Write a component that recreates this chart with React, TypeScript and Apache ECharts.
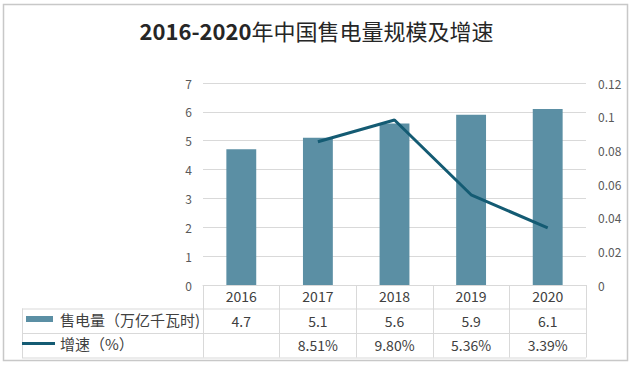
import React, { useEffect, useRef } from "react";
import * as echarts from "echarts";

const years = ["2016", "2017", "2018", "2019", "2020"];
const sales = [4.7, 5.1, 5.6, 5.9, 6.1];
const growth: (number | null)[] = [null, 0.0851, 0.098, 0.0536, 0.0339];
const salesName = "售电量（万亿千瓦时)";
const growthName = "增速（%）";
const titleYears = "2016-2020";
const titleRest = "年中国售电量规模及增速";

const W = 633;
const H = 366;
const GL = 203;
const GR = 586;
const GT = 83;
const GB = 285;
const ROW = 24.5;
const TABLE_LEFT = 22;
const FONT = "'Noto Sans CJK SC', 'Noto Sans', sans-serif";
const GRID_COLOR = "#d9d9d9";
const TEXT_COLOR = "#404040";
const BAR_COLOR = "#5b8fa4";
const LINE_COLOR = "#145b73";

export default function App() {
  const ref = useRef<HTMLDivElement>(null);
  useEffect(() => {
    if (!ref.current) return;
    const chart = echarts.init(ref.current, undefined, { renderer: "svg" });
    const r1 = GB + ROW - 1;
    const r2 = GB + ROW * 2 - 1;
    const r3 = GB + ROW * 3 - 1;
    chart.setOption({
      animation: false,
      backgroundColor: "#fff",
      textStyle: { fontFamily: FONT },
      title: {
        text: `{a|${titleYears}}{b|${titleRest}}`,
        left: "center",
        top: 14,
        textStyle: {
          rich: {
            a: { fontSize: 22, fontWeight: "bold", color: "#262626", fontFamily: FONT },
            b: { fontSize: 22, fontWeight: "normal", color: "#262626", fontFamily: FONT },
          },
        },
      },
      legend: [
        {
          data: [{ name: salesName, icon: "rect" }],
          left: 26,
          top: r1 + 3,
          padding: 0,
          itemWidth: 27,
          itemHeight: 6,
          itemGap: 0,
          textStyle: { fontSize: 15, color: TEXT_COLOR, fontFamily: FONT, padding: [0, 0, 0, 2] },
          selectedMode: false,
        },
        {
          data: [{ name: growthName, icon: "rect", itemStyle: { color: LINE_COLOR } }],
          left: 22,
          top: r2 + 3,
          padding: 0,
          itemWidth: 33,
          itemHeight: 3,
          itemGap: 0,
          textStyle: { fontSize: 15, color: TEXT_COLOR, fontFamily: FONT },
          selectedMode: false,
        },
      ],
      grid: { left: GL, right: W - GR, top: GT, bottom: H - GB, containLabel: false },
      xAxis: [
        {
          type: "category",
          data: years,
          position: "bottom",
          axisLine: { show: true, lineStyle: { color: GRID_COLOR, width: 1 } },
          axisTick: { show: true, alignWithLabel: false, interval: 0, length: ROW * 3 - 1, lineStyle: { color: GRID_COLOR } },
          axisLabel: { color: TEXT_COLOR, fontSize: 14, margin: 4, interval: 0, fontFamily: FONT },
        },
        {
          type: "category",
          data: sales.map((v) => v.toFixed(1)),
          position: "bottom",
          offset: ROW,
          axisLine: { show: false },
          axisTick: { show: false },
          axisLabel: { color: TEXT_COLOR, fontSize: 14, margin: 4, interval: 0, fontFamily: FONT },
        },
        {
          type: "category",
          data: growth.map((v) => (v == null ? "" : (v * 100).toFixed(2) + "%")),
          position: "bottom",
          offset: ROW * 2,
          axisLine: { show: false },
          axisTick: { show: false },
          axisLabel: { color: TEXT_COLOR, fontSize: 14, margin: 4, interval: 0, fontFamily: FONT },
        },
      ],
      yAxis: [
        {
          type: "value",
          min: 0,
          max: 7,
          interval: 1,
          axisLine: { show: false },
          axisTick: { show: false },
          axisLabel: { color: "#595959", fontSize: 12, margin: 11, fontFamily: FONT },
          splitLine: { show: true, lineStyle: { color: GRID_COLOR, width: 1 } },
        },
        {
          type: "value",
          min: 0,
          max: 0.12,
          interval: 0.02,
          position: "right",
          axisLine: { show: false },
          axisTick: { show: false },
          axisLabel: {
            color: "#595959",
            fontSize: 12,
            margin: 12,
            fontFamily: FONT,
            formatter: (v: number) => String(parseFloat(v.toFixed(2))),
          },
          splitLine: { show: false },
        },
      ],
      series: [
        {
          name: salesName,
          type: "bar",
          data: sales,
          xAxisIndex: 0,
          yAxisIndex: 0,
          barWidth: "39%",
          itemStyle: { color: BAR_COLOR },
        },
        {
          name: growthName,
          type: "line",
          data: growth,
          xAxisIndex: 0,
          yAxisIndex: 1,
          symbol: "none",
          lineStyle: { color: LINE_COLOR, width: 3 },
          itemStyle: { color: LINE_COLOR },
        },
      ],
      graphic: [
        {
          type: "rect",
          shape: { x: 3.5, y: 4.5, width: 624, height: 356 },
          style: { fill: "none", stroke: "#c8c8c8", lineWidth: 1.5 },
          silent: true,
        },
        { type: "line", shape: { x1: TABLE_LEFT, y1: r1 + 0.5, x2: GR, y2: r1 + 0.5 }, style: { stroke: GRID_COLOR, lineWidth: 1 } },
        { type: "line", shape: { x1: TABLE_LEFT, y1: r2 + 0.5, x2: GR, y2: r2 + 0.5 }, style: { stroke: GRID_COLOR, lineWidth: 1 } },
        { type: "line", shape: { x1: TABLE_LEFT, y1: r3 + 0.5, x2: GR, y2: r3 + 0.5 }, style: { stroke: GRID_COLOR, lineWidth: 1 } },
        { type: "line", shape: { x1: TABLE_LEFT + 0.5, y1: r1, x2: TABLE_LEFT + 0.5, y2: r3 + 0.5 }, style: { stroke: GRID_COLOR, lineWidth: 1 } },
      ],
    });
    return () => chart.dispose();
  }, []);
  return (
    <div
      ref={ref}
      style={{ position: "absolute", left: 0, top: 0, width: W, height: H }}
    />
  );
}
